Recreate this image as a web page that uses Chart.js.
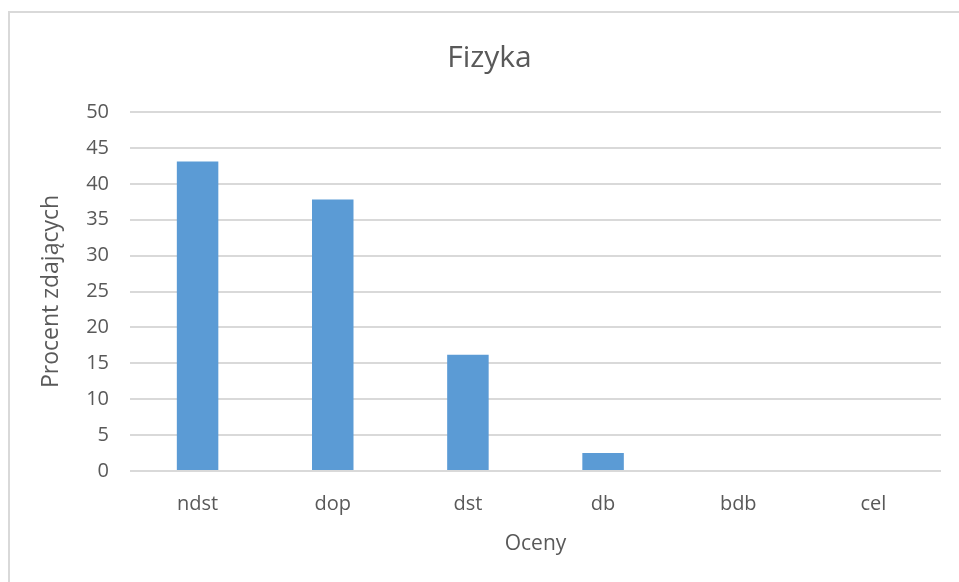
<!DOCTYPE html>
<html>
<head>
<meta charset="utf-8">
<script src="https://cdn.jsdelivr.net/npm/chart.js@4/dist/chart.umd.min.js"></script>
<style>
  html, body { margin: 0; padding: 0; background: #ffffff; }
  #wrap { position: relative; width: 959px; height: 582px; overflow: hidden; }
  #frame { position: absolute; left: 8px; top: 11px; width: 1000px; height: 1000px;
           border-left: 2px solid #d9d9d9; border-top: 2px solid #d9d9d9; box-sizing: border-box; }
  canvas { position: absolute; left: 0; top: 0; }
</style>
</head>
<body>
<div id="wrap">
  <div id="frame"></div>
  <canvas id="c" width="959" height="582"></canvas>
</div>
<script>
const chartTitle = "Fizyka";
const categories = ["ndst", "dop", "dst", "db", "bdb", "cel"];
const percentValues = [43.1, 37.8, 16.2, 2.5, 0, 0];
const yTickValues = [0, 5, 10, 15, 20, 25, 30, 35, 40, 45, 50];
const xAxisTitle = "Oceny";
const yAxisTitle = "Procent zdających";

const textColor = "#595959";
const fontFamily = "'Open Sans', 'Noto Sans', sans-serif";

new Chart(document.getElementById("c"), {
  type: "bar",
  data: {
    labels: categories,
    datasets: [{
      data: percentValues,
      backgroundColor: "#5b9bd5",
      borderWidth: 0,
      barPercentage: 0.307,
      categoryPercentage: 1.0
    }]
  },
  options: {
    responsive: false,
    animation: false,
    devicePixelRatio: 1,
    layout: { padding: { left: 38, right: 18, top: 0, bottom: 21 } },
    plugins: {
      legend: { display: false },
      tooltip: { enabled: false },
      title: {
        display: true,
        text: chartTitle,
        color: textColor,
        font: { family: fontFamily, size: 30, weight: "normal" },
        padding: { top: 40, bottom: 36 }
      }
    },
    scales: {
      x: {
        grid: { display: false, drawTicks: false },
        border: { display: false },
        ticks: { color: textColor, font: { family: fontFamily, size: 20 }, padding: 21 },
        title: {
          display: true, text: xAxisTitle, color: textColor,
          font: { family: fontFamily, size: 21 }, padding: { top: 4, bottom: 4 }
        },
        afterFit: (s) => { s.height = 90; }
      },
      y: {
        min: 0, max: 50,
        afterBuildTicks: (s) => { s.ticks = yTickValues.map(v => ({ value: v })); },
        grid: { color: "#d9d9d9", lineWidth: 2, drawTicks: false },
        border: { display: false },
        ticks: { color: textColor, font: { family: fontFamily, size: 20 }, padding: 21 },
        title: {
          display: true, text: yAxisTitle, color: textColor,
          font: { family: fontFamily, size: 23 }, padding: { top: 0, bottom: 0 }
        },
        afterFit: (s) => { s.width = 92; }
      }
    }
  }
});
</script>
</body>
</html>
